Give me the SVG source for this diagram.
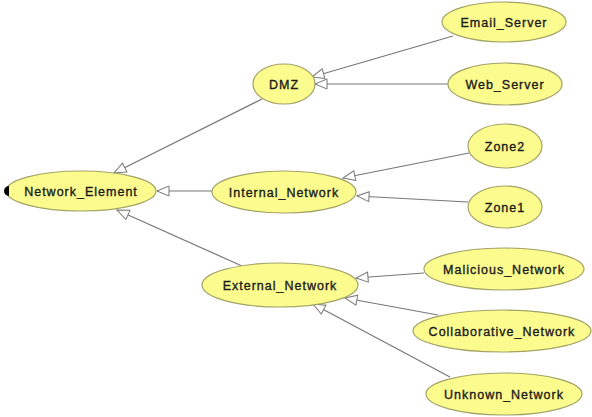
<svg xmlns="http://www.w3.org/2000/svg" width="592" height="417" viewBox="0 0 592 417">
  <style>
    .node ellipse { fill: #fbfb8e; stroke: #a3a366; stroke-width: 1.2; }
    .node text { font-family: "Liberation Sans", Arial, sans-serif; font-size: 12.5px; fill: #1a1a1a; stroke: #1a1a1a; stroke-width: 0.35; text-anchor: middle; letter-spacing: 1px; }
    .edges line { stroke: #777; stroke-width: 1.2; marker-end: url(#tri); }
  </style>
  <defs>
    <marker id="tri" markerWidth="14" markerHeight="12" refX="13" refY="6" orient="auto" markerUnits="userSpaceOnUse">
      <path d="M1,1 L13,6 L1,11 Z" fill="#fff" stroke="#777" stroke-width="1"/>
    </marker>
  </defs>
  <rect width="592" height="417" fill="#fff"/>

  <g class="edges">
    <line x1="262" y1="99" x2="114" y2="173"/>
    <line x1="212" y1="191" x2="157" y2="191"/>
    <line x1="242" y1="266" x2="117" y2="210"/>
    <line x1="453" y1="36" x2="312" y2="77"/>
    <line x1="448" y1="84" x2="315" y2="84"/>
    <line x1="469" y1="153" x2="343" y2="178"/>
    <line x1="468" y1="202" x2="357" y2="196"/>
    <line x1="424" y1="273" x2="356" y2="278"/>
    <line x1="438" y1="315" x2="345" y2="298"/>
    <line x1="450" y1="377" x2="313" y2="304"/>
  </g>

  <g id="Network_Element" class="node">
    <ellipse cx="81" cy="191" rx="75" ry="20"/>
    <path d="M9,186 A5,5 0 0 0 9,196 Z" fill="#000"/>
    <text x="81" y="195.5">Network_Element</text>
  </g>
  <g id="DMZ" class="node">
    <ellipse cx="284" cy="84" rx="31" ry="20"/>
    <text x="284" y="88.5">DMZ</text>
  </g>
  <g id="Internal_Network" class="node">
    <ellipse cx="284" cy="192" rx="72" ry="21"/>
    <text x="284" y="196.5">Internal_Network</text>
  </g>
  <g id="External_Network" class="node">
    <ellipse cx="280" cy="285" rx="78" ry="22"/>
    <text x="280" y="289.5">External_Network</text>
  </g>
  <g id="Email_Server" class="node">
    <ellipse cx="504" cy="22" rx="62" ry="20"/>
    <text x="504" y="26.5">Email_Server</text>
  </g>
  <g id="Web_Server" class="node">
    <ellipse cx="505" cy="84" rx="57" ry="21"/>
    <text x="505" y="88.5">Web_Server</text>
  </g>
  <g id="Zone2" class="node">
    <ellipse cx="505" cy="146" rx="37" ry="22"/>
    <text x="505" y="150.5">Zone2</text>
  </g>
  <g id="Zone1" class="node">
    <ellipse cx="505" cy="207" rx="37" ry="21"/>
    <text x="505" y="211.5">Zone1</text>
  </g>
  <g id="Malicious_Network" class="node">
    <ellipse cx="504" cy="269" rx="80" ry="21"/>
    <text x="504" y="273.5">Malicious_Network</text>
  </g>
  <g id="Collaborative_Network" class="node">
    <ellipse cx="502" cy="331" rx="89" ry="21"/>
    <text x="502" y="335.5">Collaborative_Network</text>
  </g>
  <g id="Unknown_Network" class="node">
    <ellipse cx="504" cy="394" rx="78" ry="21"/>
    <text x="504" y="398.5">Unknown_Network</text>
  </g>
</svg>
